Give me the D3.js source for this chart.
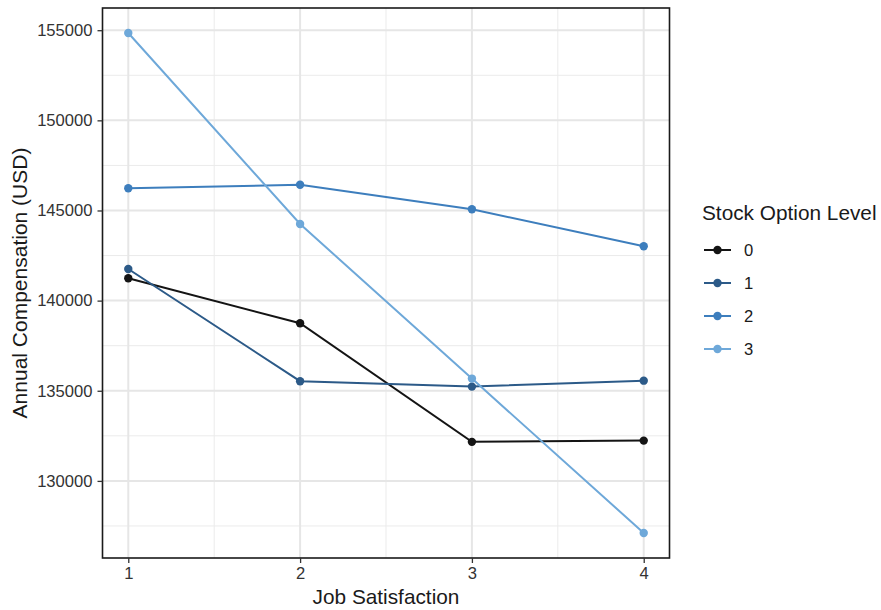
<!DOCTYPE html>
<html>
<head>
<meta charset="utf-8">
<script src="https://cdn.jsdelivr.net/npm/d3@7"></script>
<style>
  html, body { margin: 0; padding: 0; background: #fff; }
  svg { display: block; font-family: "Liberation Sans", Arial, Helvetica, sans-serif; }
</style>
</head>
<body>
<svg id="chart" width="881" height="610"></svg>
<script>
// ---- data ----
const jobSatisfaction = [1, 2, 3, 4];
const stockLevels = ["0", "1", "2", "3"];
const level0 = [141240, 138745, 132165, 132235];
const level1 = [141755, 135530, 135230, 135560];
const level2 = [146230, 146430, 145070, 143015];
const level3 = [154845, 144250, 135675, 127110];
const yTicks = [130000, 135000, 140000, 145000, 150000, 155000];
const yMinorTicks = [127500, 132500, 137500, 142500, 147500, 152500];
const xMinorTicks = [1.5, 2.5, 3.5];
const colors = ["#141414", "#2c5a88", "#3d7ebd", "#6ea8d9"];

const seriesValues = [level0, level1, level2, level3];
const series = stockLevels.map((lvl, i) => ({
  level: lvl,
  color: colors[i],
  points: jobSatisfaction.map((x, j) => ({ x: x, y: seriesValues[i][j] }))
}));

// ---- layout ----
const svg = d3.select("#chart");
const panel = { left: 102.5, right: 669.5, top: 8, bottom: 558 };

const allY = seriesValues.flat();
const yMin = d3.min(allY), yMax = d3.max(allY);
const yPad = (yMax - yMin) * 0.05;
const xPad = (4 - 1) * 0.05;

const x = d3.scaleLinear().domain([1 - xPad, 4 + xPad]).range([panel.left, panel.right]);
const y = d3.scaleLinear().domain([yMin - yPad, yMax + yPad]).range([panel.bottom, panel.top]);

const g = svg.append("g");

// background
g.append("rect")
  .attr("x", panel.left).attr("y", panel.top)
  .attr("width", panel.right - panel.left).attr("height", panel.bottom - panel.top)
  .attr("fill", "#fff");

// minor grid
g.selectAll(".ygm").data(yMinorTicks).enter().append("line")
  .attr("x1", panel.left).attr("x2", panel.right)
  .attr("y1", d => y(d)).attr("y2", d => y(d))
  .attr("stroke", "#ebebeb").attr("stroke-width", 1);
g.selectAll(".xgm").data(xMinorTicks).enter().append("line")
  .attr("y1", panel.top).attr("y2", panel.bottom)
  .attr("x1", d => x(d)).attr("x2", d => x(d))
  .attr("stroke", "#ebebeb").attr("stroke-width", 1);
// major grid
g.selectAll(".yg").data(yTicks).enter().append("line")
  .attr("x1", panel.left).attr("x2", panel.right)
  .attr("y1", d => y(d)).attr("y2", d => y(d))
  .attr("stroke", "#e6e6e6").attr("stroke-width", 2);
g.selectAll(".xg").data(jobSatisfaction).enter().append("line")
  .attr("y1", panel.top).attr("y2", panel.bottom)
  .attr("x1", d => x(d)).attr("x2", d => x(d))
  .attr("stroke", "#e6e6e6").attr("stroke-width", 2);

// lines and points
const line = d3.line().x(d => x(d.x)).y(d => y(d.y));
const sg = g.selectAll(".series").data(series).enter().append("g");
sg.append("path")
  .attr("d", d => line(d.points))
  .attr("fill", "none")
  .attr("stroke", d => d.color)
  .attr("stroke-width", 2);
sg.selectAll("circle").data(d => d.points.map(p => ({ ...p, color: d.color }))).enter().append("circle")
  .attr("cx", d => x(d.x)).attr("cy", d => y(d.y))
  .attr("r", 4.2)
  .attr("fill", d => d.color);

// panel border
g.append("rect")
  .attr("x", panel.left).attr("y", panel.top)
  .attr("width", panel.right - panel.left).attr("height", panel.bottom - panel.top)
  .attr("fill", "none").attr("stroke", "#1a1a1a").attr("stroke-width", 1.6);

// axes
const yAxis = d3.axisLeft(y).tickValues(yTicks).tickFormat(d3.format("d")).tickSize(5).tickPadding(5);
const yAx = svg.append("g").attr("transform", `translate(${panel.left},0)`).call(yAxis);
const xAxis = d3.axisBottom(x).tickValues(jobSatisfaction).tickFormat(d3.format("d")).tickSize(5).tickPadding(4);
const xAx = svg.append("g").attr("transform", `translate(0,${panel.bottom})`).call(xAxis);
[yAx, xAx].forEach(a => {
  a.select(".domain").remove();
  a.selectAll(".tick line").attr("stroke", "#333").attr("stroke-width", 1.3);
  a.selectAll(".tick text").attr("fill", "#333").attr("font-size", "16.6px")
    .attr("font-family", "'Liberation Sans', Arial, sans-serif");
});

// axis titles
svg.append("text")
  .attr("x", (panel.left + panel.right) / 2).attr("y", 604)
  .attr("text-anchor", "middle").attr("font-size", "20.8px").attr("fill", "#1a1a1a")
  .text("Job Satisfaction");
svg.append("text")
  .attr("transform", `translate(27,${(panel.top + panel.bottom) / 2}) rotate(-90)`)
  .attr("text-anchor", "middle").attr("font-size", "21px").attr("fill", "#1a1a1a")
  .text("Annual Compensation (USD)");

// legend
const legend = svg.append("g");
legend.append("text").attr("x", 702).attr("y", 220)
  .attr("font-size", "20.8px").attr("fill", "#1a1a1a").text("Stock Option Level");
const itemY = d3.scalePoint().domain(stockLevels).range([250, 349]);
const li = legend.selectAll(".li").data(series).enter().append("g")
  .attr("transform", d => `translate(0,${itemY(d.level)})`);
li.append("line").attr("x1", 704).attr("x2", 731).attr("y1", 0).attr("y2", 0)
  .attr("stroke", d => d.color).attr("stroke-width", 2);
li.append("circle").attr("cx", 717.5).attr("cy", 0).attr("r", 4.2).attr("fill", d => d.color);
li.append("text").attr("x", 744).attr("y", 0).attr("dy", "0.35em")
  .attr("font-size", "16.6px").attr("fill", "#1a1a1a").text(d => d.level);
</script>
</body>
</html>
